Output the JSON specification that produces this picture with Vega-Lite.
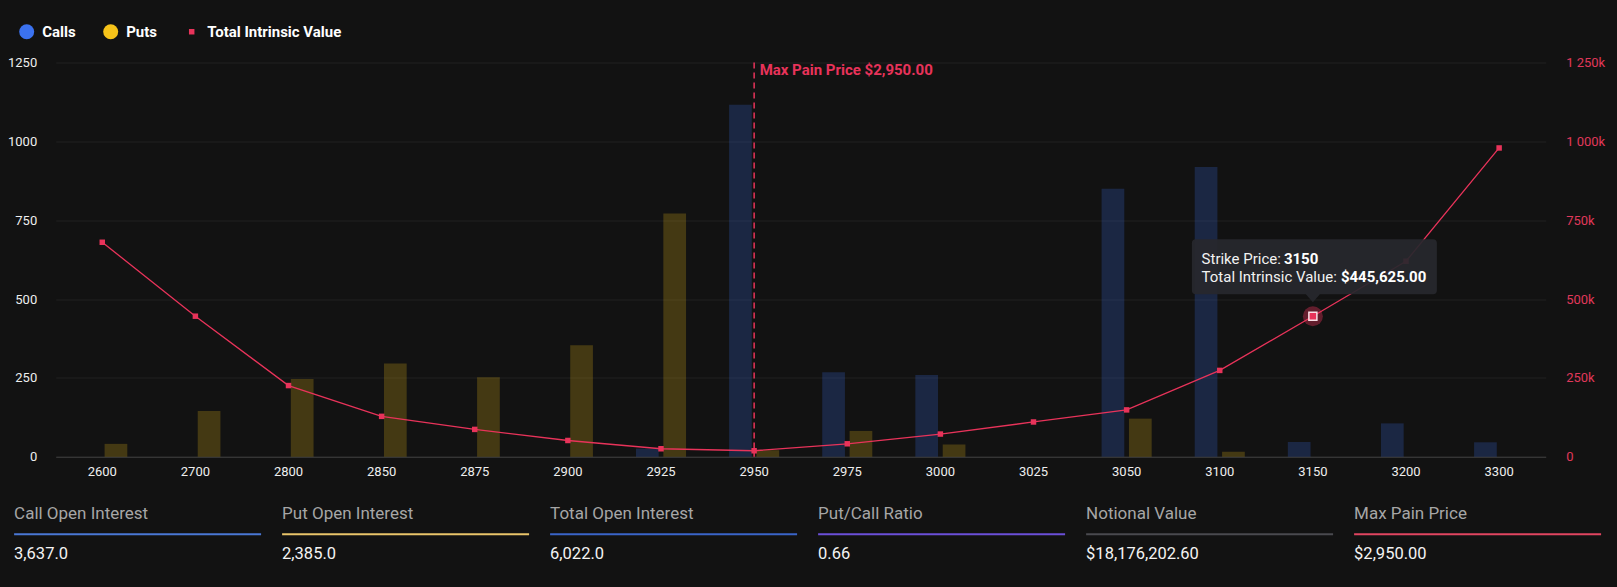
{
  "$schema": "https://vega.github.io/schema/vega-lite/v6.json",
  "background": "#121212",
  "padding": {"left": 6.7, "top": 23.5, "right": 11, "bottom": 25},
  "autosize": {"type": "pad"},
  "config": {
    "font": "Roboto",
    "view": {"stroke": null},
    "axis": {"labelFont": "Roboto", "titleFont": "Roboto"},
    "legend": {"labelFont": "Roboto"},
    "text": {"font": "Roboto"}
  },
  "datasets": {
    "oi": [
      {"strike": "2600", "type": "Puts", "oi": 41},
      {"strike": "2700", "type": "Puts", "oi": 145},
      {"strike": "2800", "type": "Puts", "oi": 247},
      {"strike": "2850", "type": "Puts", "oi": 296},
      {"strike": "2875", "type": "Puts", "oi": 252},
      {"strike": "2900", "type": "Puts", "oi": 354},
      {"strike": "2925", "type": "Calls", "oi": 26},
      {"strike": "2925", "type": "Puts", "oi": 771},
      {"strike": "2950", "type": "Calls", "oi": 1116},
      {"strike": "2950", "type": "Puts", "oi": 21},
      {"strike": "2975", "type": "Calls", "oi": 268},
      {"strike": "2975", "type": "Puts", "oi": 82},
      {"strike": "3000", "type": "Calls", "oi": 259},
      {"strike": "3000", "type": "Puts", "oi": 39},
      {"strike": "3050", "type": "Calls", "oi": 850},
      {"strike": "3050", "type": "Puts", "oi": 121},
      {"strike": "3100", "type": "Calls", "oi": 919},
      {"strike": "3100", "type": "Puts", "oi": 16},
      {"strike": "3150", "type": "Calls", "oi": 47},
      {"strike": "3200", "type": "Calls", "oi": 106},
      {"strike": "3300", "type": "Calls", "oi": 46}
    ],
    "tiv": [
      {"strike": "2600", "value": 680125},
      {"strike": "2700", "value": 445725},
      {"strike": "2800", "value": 225825},
      {"strike": "2850", "value": 128225},
      {"strike": "2875", "value": 86825},
      {"strike": "2900", "value": 51725},
      {"strike": "2925", "value": 25475},
      {"strike": "2950", "value": 19150},
      {"strike": "2975", "value": 41250},
      {"strike": "3000", "value": 72100},
      {"strike": "3025", "value": 110400},
      {"strike": "3050", "value": 148700},
      {"strike": "3100", "value": 273850},
      {"strike": "3150", "value": 445625},
      {"strike": "3200", "value": 620000},
      {"strike": "3300", "value": 979100}
    ],
    "maxpain": [
      {"strike": "2950", "label": "Max Pain Price $2,950.00"}
    ],
    "stats": [
      {"label": "Call Open Interest", "value": "3,637.0"},
      {"label": "Put Open Interest", "value": "2,385.0"},
      {"label": "Total Open Interest", "value": "6,022.0"},
      {"label": "Put/Call Ratio", "value": "0.66"},
      {"label": "Notional Value", "value": "$18,176,202.60"},
      {"label": "Max Pain Price", "value": "$2,950.00"}
    ]
  },
  "columns": 1,
  "spacing": 26,
  "resolve": {
    "scale": {"color": "independent", "x": "independent", "y": "independent"},
    "legend": {"color": "independent"}
  },
  "concat": [
    {
      "width": 1490,
      "height": 394.3,
      "layer": [
        {
          "layer": [
            {
              "data": {"name": "oi"},
              "mark": {"type": "bar", "opacity": 0.22},
              "encoding": {
                "x": {
                  "field": "strike",
                  "type": "nominal",
                  "scale": {
                    "domain": ["2600", "2700", "2800", "2850", "2875", "2900", "2925", "2950", "2975", "3000", "3025", "3050", "3100", "3150", "3200", "3300"],
                    "paddingInner": 0.462,
                    "paddingOuter": 0.231
                  },
                  "axis": {
                    "title": null,
                    "labelAngle": 0,
                    "labelColor": "#eeeeee",
                    "labelFontSize": 13,
                    "labelPadding": 9,
                    "ticks": false,
                    "domain": true,
                    "domainColor": "#3c3c3c",
                    "domainWidth": 1,
                    "grid": false
                  }
                },
                "xOffset": {
                  "field": "type",
                  "type": "nominal",
                  "scale": {"domain": ["Calls", "Puts"], "paddingInner": 0.17, "paddingOuter": 0}
                },
                "y": {
                  "field": "oi",
                  "type": "quantitative",
                  "scale": {"domain": [0, 1250], "nice": false},
                  "axis": {
                    "title": null,
                    "values": [0, 250, 500, 750, 1000, 1250],
                    "format": "d",
                    "labelColor": "#eeeeee",
                    "labelFontSize": 13,
                    "labelPadding": 19,
                    "ticks": false,
                    "domain": false,
                    "grid": true,
                    "gridColor": "#212121",
                    "gridWidth": 1
                  }
                },
                "color": {
                  "field": "type",
                  "type": "nominal",
                  "scale": {
                    "domain": ["Calls", "Puts", "Total Intrinsic Value"],
                    "range": ["#3b72f0", "#f6c319", "#e8335a"]
                  },
                  "legend": {
                    "orient": "none",
                    "legendX": -36.5,
                    "legendY": -38.5,
                    "direction": "horizontal",
                    "title": null,
                    "padding": 0,
                    "symbolSize": 225,
                    "symbolType": "circle",
                    "symbolOpacity": 1,
                    "symbolStrokeWidth": 0,
                    "columnPadding": 27,
                    "labelOffset": 8,
                    "labelFontSize": 15,
                    "labelFontWeight": "bold",
                    "labelColor": "#ffffff",
                    "encode": {
                      "symbols": {
                        "update": {
                          "shape": {"signal": "datum.value === 'Total Intrinsic Value' ? 'square' : 'circle'"},
                          "size": {"signal": "datum.value === 'Total Intrinsic Value' ? 30 : 225"},
                          "fill": {"signal": "datum.value === 'Calls' ? '#3b72f0' : datum.value === 'Puts' ? '#f6c319' : '#e8335a'"},
                          "opacity": {"value": 1},
                          "fillOpacity": {"value": 1},
                          "strokeWidth": {"value": 0}
                        }
                      }
                    }
                  }
                }
              }
            },
            {
              "data": {"name": "maxpain"},
              "mark": {"type": "rule", "color": "#e8335a", "strokeDash": [6, 4], "strokeWidth": 1.5},
              "encoding": {"x": {"field": "strike", "type": "nominal"}}
            },
            {
              "data": {"name": "maxpain"},
              "mark": {
                "type": "text",
                "font": "Roboto",
                "align": "left",
                "baseline": "middle",
                "dx": 5.5,
                "dy": 7,
                "fontSize": 15,
                "fontWeight": "bold",
                "color": "#e8335a"
              },
              "encoding": {
                "x": {"field": "strike", "type": "nominal"},
                "y": {"datum": 1250, "type": "quantitative"},
                "text": {"field": "label"}
              }
            }
          ]
        },
        {
          "data": {"name": "tiv"},
          "encoding": {
            "x": {"field": "strike", "type": "nominal"},
            "y": {
              "field": "value",
              "type": "quantitative",
              "scale": {"domain": [0, 1250000], "nice": false},
              "axis": {
                "orient": "right",
                "title": null,
                "values": [0, 250000, 500000, 750000, 1000000, 1250000],
                "labelColor": "#e0385a",
                "labelFontSize": 13,
                "labelPadding": 20,
                "ticks": false,
                "domain": false,
                "grid": false,
                "labelExpr": "datum.value === 0 ? '0' : replace(format(datum.value / 1000, ','), ',', ' ') + 'k'"
              }
            }
          },
          "layer": [
            {
              "mark": {"type": "line", "strokeWidth": 1.3},
              "encoding": {"color": {"datum": "Total Intrinsic Value", "type": "nominal"}}
            },
            {
              "mark": {"type": "point", "shape": "square", "filled": true, "size": 30, "opacity": 1},
              "encoding": {"color": {"datum": "Total Intrinsic Value", "type": "nominal"}}
            },
            {
              "transform": [{"filter": "datum.strike === '3150'"}],
              "mark": {"type": "point", "shape": "circle", "filled": true, "size": 400, "color": "#e8335a", "opacity": 0.38}
            },
            {
              "transform": [{"filter": "datum.strike === '3150'"}],
              "mark": {
                "type": "point",
                "shape": "M-117,-77 H120 Q124,-77 124,-73 V-26 Q124,-22 120,-22 H7 L0,-14 L-7,-22 H-117 Q-121,-22 -121,-26 V-73 Q-121,-77 -117,-77 Z",
                "filled": true,
                "size": 4,
                "color": "#27282d",
                "opacity": 0.93
              }
            },
            {
              "transform": [{"filter": "datum.strike === '3150'"}],
              "mark": {"type": "point", "shape": "square", "filled": true, "size": 64, "color": "#e8335a", "stroke": "#f8dfe5", "strokeWidth": 1.5, "opacity": 1}
            },
            {
              "transform": [{"filter": "datum.strike === '3150'"}],
              "mark": {"type": "text", "text": "Strike Price:", "font": "Roboto", "align": "left", "baseline": "alphabetic", "dx": -111.3, "dy": -51.9, "fontSize": 15, "color": "#f2f2f2"}
            },
            {
              "transform": [{"filter": "datum.strike === '3150'"}],
              "mark": {"type": "text", "font": "Roboto", "align": "left", "baseline": "alphabetic", "dx": -29, "dy": -51.9, "fontSize": 15, "fontWeight": "bold", "color": "#ffffff"},
              "encoding": {"text": {"field": "strike"}}
            },
            {
              "transform": [{"filter": "datum.strike === '3150'"}],
              "mark": {"type": "text", "text": "Total Intrinsic Value:", "font": "Roboto", "align": "left", "baseline": "alphabetic", "dx": -111.3, "dy": -34.6, "fontSize": 15, "color": "#f2f2f2"}
            },
            {
              "transform": [{"filter": "datum.strike === '3150'"}],
              "mark": {"type": "text", "font": "Roboto", "align": "left", "baseline": "alphabetic", "dx": 28, "dy": -34.6, "fontSize": 15, "fontWeight": "bold", "color": "#ffffff"},
              "encoding": {"text": {"field": "value", "format": "$,.2f"}}
            }
          ]
        }
      ],
      "resolve": {"scale": {"y": "independent"}, "axis": {"y": "independent"}}
    },
    {
      "width": 1490,
      "height": 39.4,
      "data": {"name": "stats"},
      "encoding": {
        "x": {
          "field": "label",
          "type": "nominal",
          "bandPosition": 0,
          "scale": {
            "type": "band",
            "domain": ["Call Open Interest", "Put Open Interest", "Total Open Interest", "Put/Call Ratio", "Notional Value", "Max Pain Price"],
            "range": [-41.6, 1545.4],
            "paddingInner": 0.0784,
            "paddingOuter": 0
          },
          "axis": null
        }
      },
      "layer": [
        {
          "mark": {"type": "text", "font": "Roboto", "align": "left", "baseline": "middle", "fontSize": 17, "color": "#a6a6a6"},
          "encoding": {
            "y": {
              "datum": "label",
              "type": "nominal",
              "scale": {"type": "point", "domain": ["label", "line", "value"], "padding": 0},
              "axis": null
            },
            "text": {"field": "label"}
          }
        },
        {
          "mark": {"type": "rule", "strokeWidth": 2},
          "encoding": {
            "x2": {"field": "label", "bandPosition": 1},
            "y": {"datum": "line", "type": "nominal"},
            "color": {
              "field": "label",
              "type": "nominal",
              "scale": {
                "domain": ["Call Open Interest", "Put Open Interest", "Total Open Interest", "Put/Call Ratio", "Notional Value", "Max Pain Price"],
                "range": ["#4a77d4", "#e9c46a", "#3a64c8", "#6b4fd8", "#4a4a4f", "#e04560"]
              },
              "legend": null
            }
          }
        },
        {
          "mark": {"type": "text", "font": "Roboto", "align": "left", "baseline": "middle", "fontSize": 16.5, "color": "#f4f4f4"},
          "encoding": {
            "y": {"datum": "value", "type": "nominal"},
            "text": {"field": "value"}
          }
        }
      ]
    }
  ]
}
